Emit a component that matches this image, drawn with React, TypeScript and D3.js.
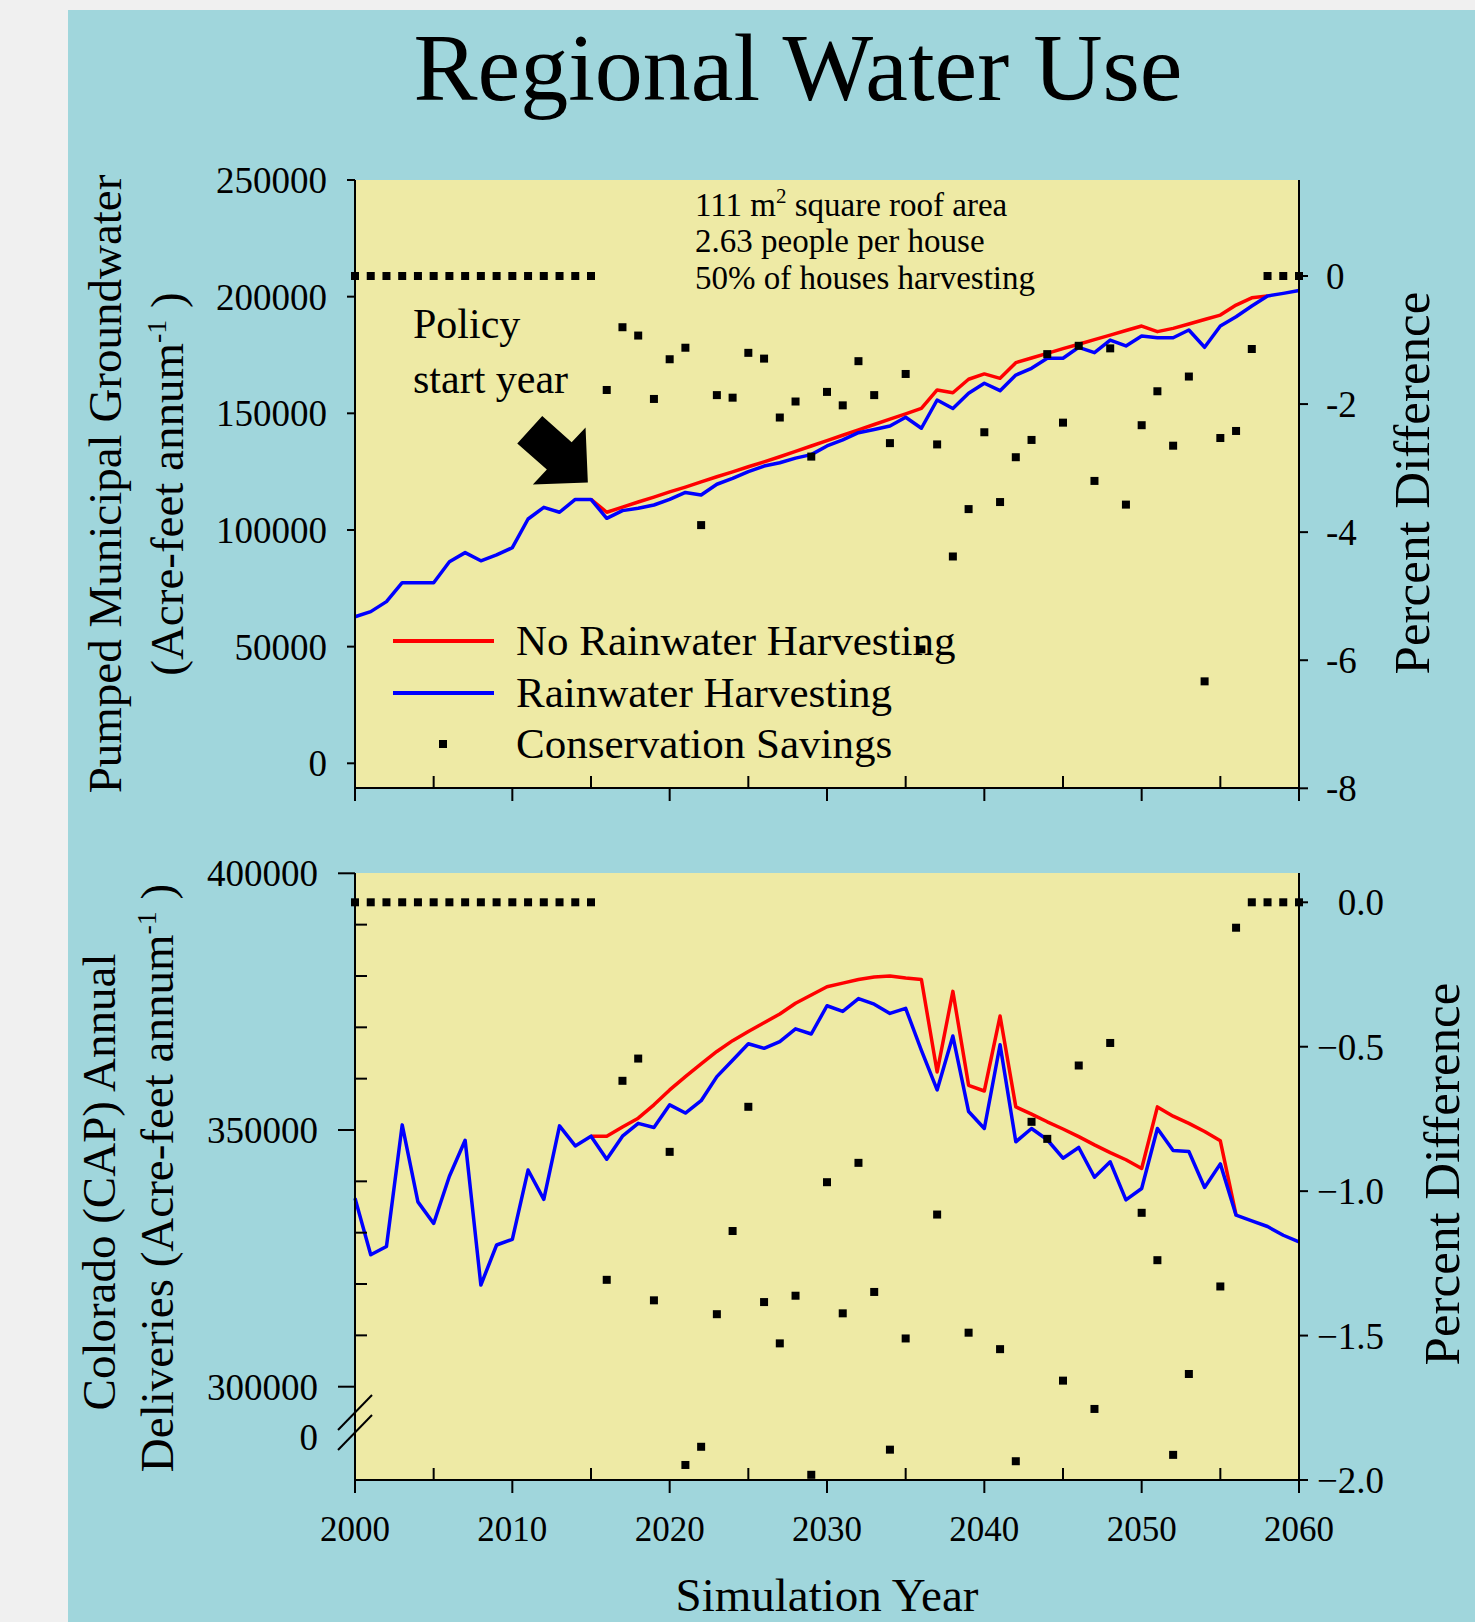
import * as d3 from "d3";

const FONT = "'Liberation Serif', 'Times New Roman', Times, serif";
const TEAL = "#a0d6dc";
const PLOT_BG = "#eeeaa5";

// simulation years
const years = d3.range(2000, 2061);

// top panel: pumped municipal groundwater (acre-feet / yr)
const gwHarvest = [
  62800, 65000, 69300, 77400, 77400, 77400, 86400, 90300, 86800, 89300,
  92400, 104700, 109700, 107600, 113100, 113100, 105000, 108300, 109300, 110700,
  113100, 116100, 115000, 119600, 122100, 125000, 127400, 128800, 130800, 132300,
  136000, 138600, 141700, 143100, 144600, 148300, 143600, 155700, 152100, 158600,
  162900, 159700, 166400, 169300, 173600, 173600, 178300, 176000, 181400, 178900,
  183100, 182400, 182400, 185700, 178300, 187400, 191400, 196000, 200300, 201400,
  202600,
];
const gwNoHarvestStart = 2015;
const gwNoHarvest = [
  113100, 107600, 109800, 112000, 114100, 116300, 118400, 120600, 122800, 124900,
  127100, 129200, 131400, 133700, 136000, 138300, 140600, 142900, 145200, 147500,
  149800, 152100, 160000, 158800, 164600, 166900, 165000, 171700, 173700, 175700,
  177700, 179600, 181600, 183500, 185500, 187400, 185000, 186400, 188300, 190200,
  192100, 196400, 199500, 200300,
];
// percent difference, right axis
const gwSavingsPct = [
  0, 0, 0, 0, 0, 0, 0, 0, 0, 0, 0, 0, 0, 0, 0, 0,
  -1.78, -0.8, -0.93, -1.92, -1.3, -1.12, -3.89, -1.86, -1.9, -1.2,
  -1.29, -2.21, -1.96, -2.82, -1.81, -2.02, -1.33, -1.86, -2.61, -1.53,
  -5.83, -2.63, -4.38, -3.64, -2.44, -3.53, -2.83, -2.56, -1.22, -2.29,
  -1.09, -3.2, -1.13, -3.57, -2.33, -1.8, -2.65, -1.57, -6.33, -2.53,
  -2.42, -1.14, 0, 0, 0,
];

// bottom panel: Colorado (CAP) deliveries
const capHarvest = [
  336700, 325700, 327300, 351000, 336000, 331800, 341000, 348000, 319800, 327600,
  328700, 342200, 336500, 350800, 346900, 348800, 344300, 348800, 351300, 350500,
  354900, 353300, 355700, 360400, 363600, 366800, 365900, 367200, 369700, 368700,
  374200, 373100, 375600, 374500, 372700, 373700, 365500, 357800, 368300, 353600,
  350300, 366600, 347700, 350300, 348100, 344500, 346600, 340800, 343800, 336400,
  338600, 350300, 346000, 345800, 338800, 343400, 333400, 332300, 331200, 329500,
  328200,
];
const capNoHarvestStart = 2015;
const capNoHarvest = [
  348800, 348800, 350600, 352300, 354900, 357800, 360400, 362900, 365300, 367400,
  369200, 370900, 372600, 374700, 376300, 377900, 378600, 379300, 379800, 380000,
  379600, 379300, 361300, 377000, 358700, 357600, 372200, 354500, 353100, 351600,
  350200, 348700, 347100, 345600, 344200, 342500, 354500, 352700, 351300, 349700,
  347900, 333400,
];
// null = below the -2.0 floor of the axis
const capSavingsPct = [
  0, 0, 0, 0, 0, 0, 0, 0, 0, 0, 0, 0, 0, 0, 0, 0,
  -1.307, -0.618, -0.541, -1.378, -0.864, -1.948, -1.885, -1.426, -1.138, -0.708,
  -1.384, -1.527, -1.362, -1.982, -0.969, -1.423, -0.902, -1.349, -1.895, -1.51,
  null, -1.081, null, -1.49, null, -1.547, -1.935, -0.76, -0.819, -1.656,
  -0.565, -1.754, -0.487, null, -1.075, -1.239, -1.913, -1.633, null, -1.33,
  -0.088, 0, 0, 0, 0,
];

const gwTicks = [0, 50000, 100000, 150000, 200000, 250000];
const gwPctTicks = [0, -2, -4, -6, -8];
const capMajorTicks = [300000, 350000, 400000];
const capMinorTicks = [310000, 320000, 330000, 340000, 360000, 370000, 380000, 390000];
const capPctTicks = [0, -0.5, -1, -1.5, -2];
const yearTicks = [2000, 2010, 2020, 2030, 2040, 2050, 2060];
const yearMinorTicks = [2005, 2015, 2025, 2035, 2045, 2055];

const legendItems = ["No Rainwater Harvesting", "Rainwater Harvesting", "Conservation Savings"];
const noteLines = ["2.63 people per house", "50% of houses harvesting"];

type Pt = [number, number];

function pairs(start: number, vals: (number | null)[]): [number, number | null][] {
  return vals.map((v, i) => [start + i, v]);
}

export default function App() {
  const W = 1475;
  const H = 1622;
  const L = 355;
  const R = 1299;
  const top = { t: 180, b: 788 };
  const bot = { t: 873, b: 1480 };

  const x = d3.scaleLinear().domain([2000, 2060]).range([L, R]);
  const yGw = d3.scaleLinear().domain([0, 250000]).range([763.3, 180]);
  const yGwPct = d3.scaleLinear().domain([-8, 0]).range([788.3, 276]);
  const yCap = d3.scaleLinear().domain([300000, 400000]).range([1386.7, 873.3]);
  const yCapPct = d3.scaleLinear().domain([-2, 0]).range([1480, 902.3]);

  const lineOf = (y: d3.ScaleLinear<number, number>) =>
    d3
      .line<Pt>()
      .x((d) => x(d[0]))
      .y((d) => y(d[1]));

  const gwLine = lineOf(yGw);
  const capLine = lineOf(yCap);

  const gwBlue = gwLine(pairs(years[0], gwHarvest) as Pt[]);
  const gwRed = gwLine(pairs(gwNoHarvestStart, gwNoHarvest) as Pt[]);
  const capBlue = capLine(pairs(years[0], capHarvest) as Pt[]);
  const capRed = capLine(pairs(capNoHarvestStart, capNoHarvest) as Pt[]);

  const gwDots = pairs(years[0], gwSavingsPct).filter((d) => d[1] !== null);
  const capDots = pairs(years[0], capSavingsPct).filter((d) => d[1] !== null);

  const tickFs = 37;
  const lw = 3.5;

  const xAxis = (yb: number, labels: boolean) => (
    <g stroke="#000" strokeWidth={2}>
      <line x1={L} x2={R} y1={yb} y2={yb} />
      {yearTicks.map((t) => (
        <line key={"M" + t} x1={x(t)} x2={x(t)} y1={yb} y2={yb + 13} />
      ))}
      {yearMinorTicks.map((t) => (
        <line key={"m" + t} x1={x(t)} x2={x(t)} y1={yb} y2={yb - 12} />
      ))}
      {labels &&
        yearTicks.map((t) => (
          <text key={"l" + t} x={x(t)} y={yb + 61} stroke="none" fill="#000" fontSize={35} textAnchor="middle">
            {t}
          </text>
        ))}
    </g>
  );

  // arrow anchored on the policy start year
  const tipX = x(2014.8);
  const tipY = yGw(120400);
  const arrowPts: Pt[] = [
    [-45.6, -66.3], [-16.2, -40.2], [-2.3, -55], [0, 0], [-55, 2], [-41, -12.8], [-70.6, -39],
  ];
  const arrow = arrowPts.map((p) => `${tipX + p[0]},${tipY + p[1]}`).join(" ");

  return (
    <svg
      width={W}
      height={H}
      style={{ position: "absolute", left: 0, top: 0, display: "block" }}
      fontFamily={FONT}
    >
      <rect x={0} y={0} width={W} height={H} fill="#f0f0f0" />
      <rect x={68} y={10} width={W - 68} height={H - 10} fill={TEAL} />

      <text x={798} y={100} fontSize={96} textAnchor="middle" fill="#000">
        Regional Water Use
      </text>

      {/* ---------- top panel ---------- */}
      <rect x={L} y={top.t} width={R - L} height={top.b - top.t} fill={PLOT_BG} />

      <g fontSize={33} fill="#000">
        <text x={695} y={216}>
          111 m
          <tspan dy={-13} fontSize={21}>2</tspan>
          <tspan dy={13}> square roof area</tspan>
        </text>
        {noteLines.map((s, i) => (
          <text key={s} x={695} y={252 + i * 37}>
            {s}
          </text>
        ))}
      </g>

      <g fontSize={42} fill="#000">
        <text x={413} y={338}>Policy</text>
        <text x={413} y={393}>start year</text>
      </g>
      <polygon points={arrow} fill="#000" />

      {/* legend */}
      <g fontSize={43} fill="#000">
        <line x1={393} x2={494} y1={641} y2={641} stroke="#ff0000" strokeWidth={4} />
        <line x1={393} x2={494} y1={693} y2={693} stroke="#0000ff" strokeWidth={4} />
        <rect x={439} y={740} width={8} height={8} fill="#000" />
        {legendItems.map((s, i) => (
          <text key={s} x={516} y={655 + i * 51.7}>
            {s}
          </text>
        ))}
      </g>

      <path d={gwRed ?? ""} fill="none" stroke="#ff0000" strokeWidth={lw} strokeLinejoin="round" />
      <path d={gwBlue ?? ""} fill="none" stroke="#0000ff" strokeWidth={lw} strokeLinejoin="round" />
      {gwDots.map((d) => (
        <rect key={d[0]} x={x(d[0]) - 4} y={yGwPct(d[1] as number) - 4} width={8} height={8} fill="#000" />
      ))}

      {/* top axes */}
      <g stroke="#000" strokeWidth={2}>
        <line x1={L} x2={L} y1={top.t} y2={top.b} />
        <line x1={R} x2={R} y1={top.t} y2={top.b} />
        {gwTicks.map((t) => (
          <line key={t} x1={L - 8} x2={L} y1={yGw(t)} y2={yGw(t)} />
        ))}
        {gwPctTicks.map((t) => (
          <line key={t} x1={R} x2={R + 9} y1={yGwPct(t)} y2={yGwPct(t)} />
        ))}
      </g>
      {xAxis(top.b, false)}
      <g fontSize={tickFs} fill="#000">
        {gwTicks.map((t) => (
          <text key={t} x={327} y={yGw(t)} dy="0.35em" textAnchor="end">
            {t}
          </text>
        ))}
        {gwPctTicks.map((t) => (
          <text key={t} x={1326} y={yGwPct(t)} dy="0.35em" textAnchor="start">
            {t}
          </text>
        ))}
      </g>

      <g fill="#000" fontSize={47}>
        <text transform={`translate(121,484) rotate(-90)`} textAnchor="middle">
          Pumped Municipal Groundwater
        </text>
        <text transform={`translate(183,484) rotate(-90)`} textAnchor="middle">
          (Acre-feet annum
          <tspan dy={-17} fontSize={28}>-1</tspan>
          <tspan dy={17}> )</tspan>
        </text>
      </g>
      <text transform={`translate(1429,483) rotate(-90)`} textAnchor="middle" fontSize={51} fill="#000">
        Percent Difference
      </text>

      {/* ---------- bottom panel ---------- */}
      <rect x={L} y={bot.t} width={R - L} height={bot.b - bot.t} fill={PLOT_BG} />

      <path d={capRed ?? ""} fill="none" stroke="#ff0000" strokeWidth={lw} strokeLinejoin="round" />
      <path d={capBlue ?? ""} fill="none" stroke="#0000ff" strokeWidth={lw} strokeLinejoin="round" />
      {capDots.map((d) => (
        <rect key={d[0]} x={x(d[0]) - 4} y={yCapPct(d[1] as number) - 4} width={8} height={8} fill="#000" />
      ))}

      <g stroke="#000" strokeWidth={2}>
        <line x1={L} x2={L} y1={bot.t} y2={bot.b} />
        <line x1={R} x2={R} y1={bot.t} y2={bot.b} />
        {capMajorTicks.map((t) => (
          <line key={t} x1={L - 17} x2={L} y1={yCap(t)} y2={yCap(t)} />
        ))}
        {capMinorTicks.map((t) => (
          <line key={t} x1={L} x2={L + 12} y1={yCap(t)} y2={yCap(t)} />
        ))}
        {capPctTicks.map((t) => (
          <line key={t} x1={R} x2={R + 9} y1={yCapPct(t)} y2={yCapPct(t)} />
        ))}
        {/* axis break */}
        <line x1={338} y1={bot.b - 50} x2={372} y2={bot.b - 85} />
        <line x1={338} y1={bot.b - 30} x2={372} y2={bot.b - 65} />
      </g>
      {xAxis(bot.b, true)}
      <g fontSize={tickFs} fill="#000">
        {capMajorTicks.map((t) => (
          <text key={t} x={318} y={yCap(t)} dy="0.35em" textAnchor="end">
            {t}
          </text>
        ))}
        <text x={318} y={bot.b - 43} dy="0.35em" textAnchor="end">
          0
        </text>
        {capPctTicks.map((t) => (
          <text key={t} x={1384} y={yCapPct(t)} dy="0.35em" textAnchor="end">
            {d3.format(".1f")(t)}
          </text>
        ))}
      </g>

      <g fill="#000" fontSize={47}>
        <text transform={`translate(115,1182) rotate(-90)`} textAnchor="middle">
          Colorado (CAP) Annual
        </text>
        <text transform={`translate(173,1178) rotate(-90)`} textAnchor="middle">
          Deliveries (Acre-feet annum
          <tspan dy={-17} fontSize={28}>-1</tspan>
          <tspan dy={17}> )</tspan>
        </text>
      </g>
      <text transform={`translate(1459,1174) rotate(-90)`} textAnchor="middle" fontSize={51} fill="#000">
        Percent Difference
      </text>

      <text x={827} y={1611} fontSize={47} textAnchor="middle" fill="#000">
        Simulation Year
      </text>
    </svg>
  );
}
